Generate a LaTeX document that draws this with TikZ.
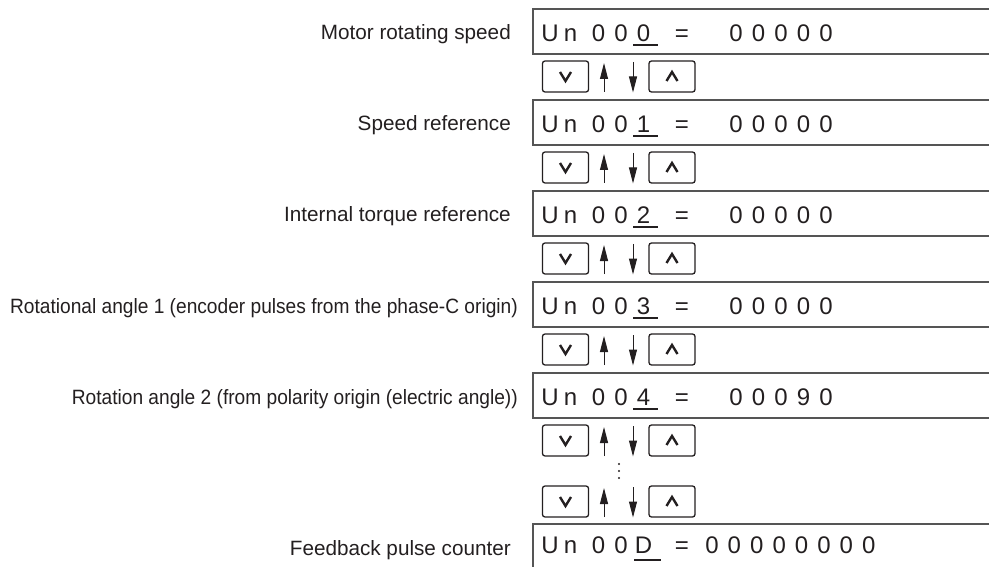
\documentclass[tikz,border=0pt]{standalone}
\usepackage{fontspec}
\setmainfont{Liberation Sans}
\usetikzlibrary{arrows.meta}
\definecolor{ink}{RGB}{35,31,32}
\definecolor{rule}{RGB}{85,85,85}

\tikzset{
  keybox/.style={draw=ink, line width=1.3pt, rounded corners=2.5pt,
    minimum width=46pt, minimum height=31pt, inner sep=0pt},
  chev/.style={draw=ink, line width=2.4pt},
  scrollarrow/.style={draw=ink, line width=1pt, -{Triangle[length=16pt,width=8pt]}},
  panel/.style={draw=rule, line width=1.4pt},
  lab/.style={anchor=base east, inner sep=0pt, text=ink, font=\fontsize{20.7}{24}\selectfont},
  seg/.style={anchor=base, inner sep=0pt, text=ink, font=\fontsize{24}{28}\selectfont},
}

\begin{document}
\begin{tikzpicture}[x=1pt, y=-1pt]
  \useasboundingbox (0,0) rectangle (989,567);
  % monitor displays Un000 ... Un004
  \foreach \i/\ty/\lx/\sx/\txt/\dig/\val in {%
      0/9/511/1/{Motor rotating speed}/0/{0,0,0,0,0},
      1/100/511/1/{Speed reference}/1/{0,0,0,0,0},
      2/191/511/1/{Internal torque reference}/2/{0,0,0,0,0},
      3/282/518/0.925/{Rotational angle 1 (encoder pulses from the phase-C origin)}/3/{0,0,0,0,0},
      4/373/518/0.925/{Rotation angle 2 (from polarity origin (electric angle))}/4/{0,0,0,9,0}}{
    \pgfmathsetmacro\yb{\ty+45}
    \pgfmathsetmacro\ybase{\ty+32.5}
    \draw[panel] (989,\ty) -- (533,\ty) -- (533,\yb) -- (989,\yb);
    \node[lab] (lab\i) at (\lx,\ty+31) {\scalebox{\sx}[1]{\txt}};
    \node[seg] (u\i) at (550,\ybase) {U};
    \node[seg] (n\i) at (570.5,\ybase) {n};
    \node[seg] (za\i) at (598.5,\ybase) {0};
    \node[seg] (zb\i) at (621,\ybase) {0};
    \node[seg] (d\i) at (643.5,\ybase) {\dig};
    \draw[ink, line width=1.3pt] (633,\ty+36) -- (658,\ty+36);
    \node[seg] (eq\i) at (682,\ybase) {=};
    \foreach \c [count=\k] in \val{
      \node[seg] (v\i\k) at (713.5+22.5*\k,\ybase) {\c};
    }
  }
  % up/down keys between the displays
  \foreach \i/\ky in {0/76.5,1/167.5,2/258.5,3/349.5,4/440.5,5/501.5}{
    \node[keybox] (dn\i) at (565.5,\ky) {};
    \node[keybox] (up\i) at (672,\ky) {};
    \draw[chev] ([shift={(-5.5,-4.5)}]dn\i.center) -- ([shift={(0,4.5)}]dn\i.center)
      -- ([shift={(5.5,-4.5)}]dn\i.center);
    \draw[chev] ([shift={(-5.5,4.5)}]up\i.center) -- ([shift={(0,-4.5)}]up\i.center)
      -- ([shift={(5.5,4.5)}]up\i.center);
    \coordinate (ua\i) at (604,\ky+15.5);
    \coordinate (ub\i) at (604,\ky-13.5);
    \coordinate (da\i) at (633,\ky-14.5);
    \coordinate (db\i) at (633,\ky+16);
    \draw[scrollarrow] (ua\i) -- (ub\i);
    \draw[scrollarrow] (da\i) -- (db\i);
  }
  \foreach \yy in {464,471,478}{
    \fill[ink] (619,\yy) circle (1.1);
  }
  % feedback pulse counter
  \draw[panel] (989,524) -- (533,524) -- (533,567);
  \node[lab] (lab5) at (511,555) {Feedback pulse counter};
  \foreach \ch/\xx [count=\k] in {U/550,n/570.5,0/598.5,0/621,D/643.5,=/682}{
    \node[seg] (f\k) at (\xx,553) {\ch};
  }
  \draw[ink, line width=1.3pt] (634,560) -- (661,560);
  \foreach \k in {0,...,7}{
    \node[seg] (w\k) at (712+22.4*\k,553) {0};
  }
\end{tikzpicture}
\end{document}
